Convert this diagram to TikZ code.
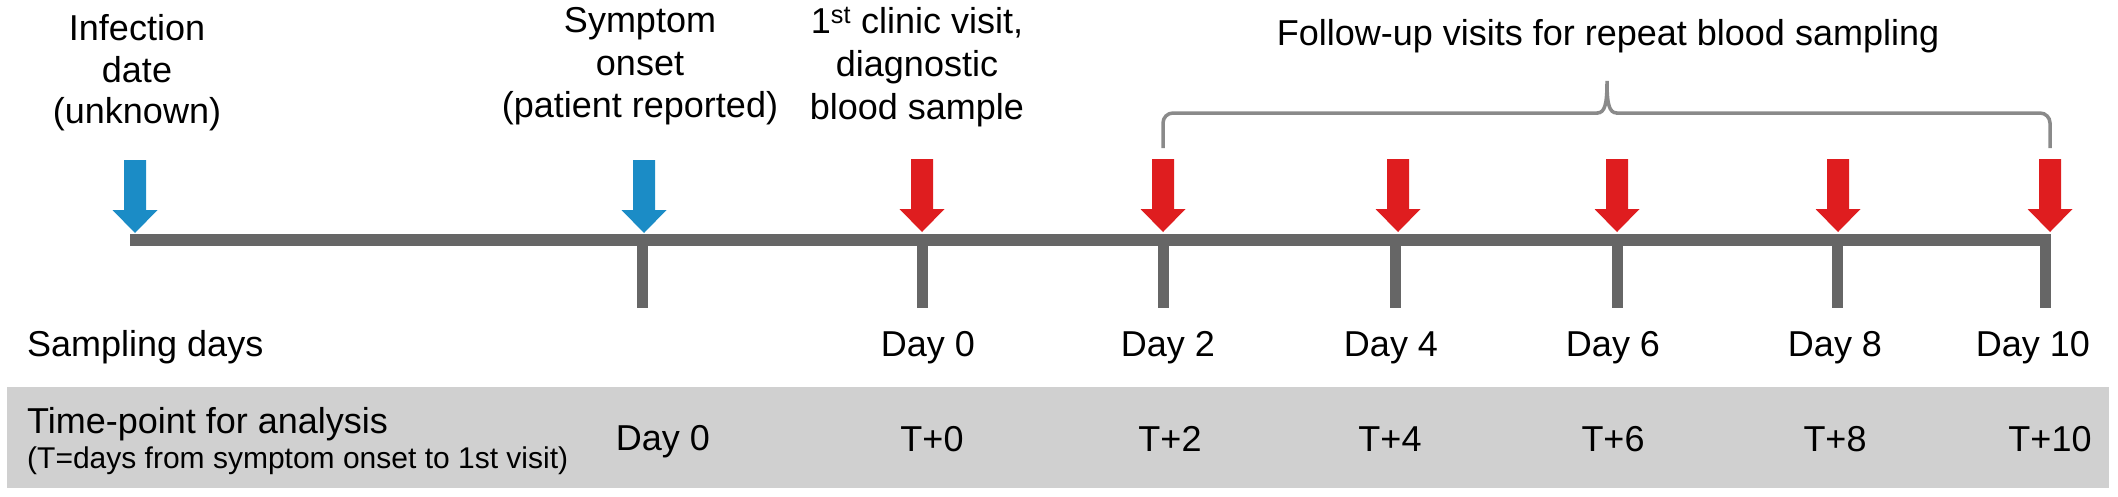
\documentclass[tikz,border=0pt]{standalone}
\usepackage{fontspec}
\setmainfont{Liberation Sans}
\definecolor{tlgray}{HTML}{666666}
\definecolor{bracegray}{HTML}{8A8A8A}
\definecolor{bandgray}{HTML}{D0D0D0}
\definecolor{arrblue}{HTML}{1B8CC6}
\definecolor{arrred}{HTML}{DF1D1F}
\begin{document}
\begin{tikzpicture}[x=1pt,y=-1pt,
  lbl/.style={font=\fontsize{36}{43}\selectfont, inner sep=0pt, anchor=base},
  sublbl/.style={font=\fontsize{30}{36}\selectfont, inner sep=0pt, anchor=base west},
  bracestyle/.style={draw=bracegray, line width=3.5pt},
  visitarrow/.pic={\fill (0,0) -- (-22.5,-23) -- (-11,-23) -- (-11,-73) -- (11,-73) -- (11,-23) -- (22.5,-23) -- cycle;}]
\useasboundingbox (0,0) rectangle (2118,496);

% band
\fill[bandgray] (7,387) rectangle (2109,488);

% timeline and ticks
\fill[tlgray] (130,234) rectangle (2051,246);
\foreach \x in {642,922,1163,1395,1617,1837,2045}
  \fill[tlgray] (\x-5.5,240) rectangle (\x+5.5,308);

% arrows
\pic[color=arrblue] (a1) at (135,233) {visitarrow};
\pic[color=arrblue] (a2) at (644,233) {visitarrow};
\foreach \x/\n in {922/r0,1163/r2,1398/r4,1617/r6,1838/r8,2050/r10}
  \pic[color=arrred] (\n) at (\x,232) {visitarrow};

% brace
\draw[bracestyle, rounded corners=10pt] (1163,148) -- (1163,113) -- (1598,113);
\draw[bracestyle] (1597,113) .. controls (1605,113) and (1607,104) .. (1607,81)
   .. controls (1607,104) and (1609,113) .. (1617,113);
\draw[bracestyle, rounded corners=10pt] (1616,113) -- (2050,113) -- (2050,148);

% top labels
\node[lbl] (inf1) at (137,40) {Infection};
\node[lbl] (inf2) at (137,82) {date};
\node[lbl] (inf3) at (137,123) {(unknown)};
\node[lbl] (sym1) at (640,32) {Symptom};
\node[lbl] (sym2) at (640,75) {onset};
\node[lbl] (sym3) at (640,117) {(patient reported)};
\node[lbl] (cv1) at (917,33) {1\textsuperscript{st} clinic visit,};
\node[lbl] (cv2) at (917,76) {diagnostic};
\node[lbl] (cv3) at (917,119) {blood sample};
\node[lbl] (fu) at (1608,45) {Follow-up visits for repeat blood sampling};

% sampling days row
\node[lbl, anchor=base west] (sd) at (27,356) {Sampling days};
\node[lbl] (d0) at (928,356) {Day 0};
\node[lbl] (d2) at (1168,356) {Day 2};
\node[lbl] (d4) at (1391,356) {Day 4};
\node[lbl] (d6) at (1613,356) {Day 6};
\node[lbl] (d8) at (1835,356) {Day 8};
\node[lbl] (d10) at (2033,356) {Day 10};

% analysis row
\node[lbl, anchor=base west] (tp) at (27,433) {Time-point for analysis};
\node[sublbl] (tpn) at (27,468) {(T=days from symptom onset to 1st visit)};
\node[lbl] (bd0) at (663,450) {Day 0};
\node[lbl] (t0) at (932,451) {T+0};
\node[lbl] (t2) at (1170,451) {T+2};
\node[lbl] (t4) at (1390,451) {T+4};
\node[lbl] (t6) at (1613,451) {T+6};
\node[lbl] (t8) at (1835,451) {T+8};
\node[lbl] (t10) at (2050,451) {T+10};
\end{tikzpicture}
\end{document}
